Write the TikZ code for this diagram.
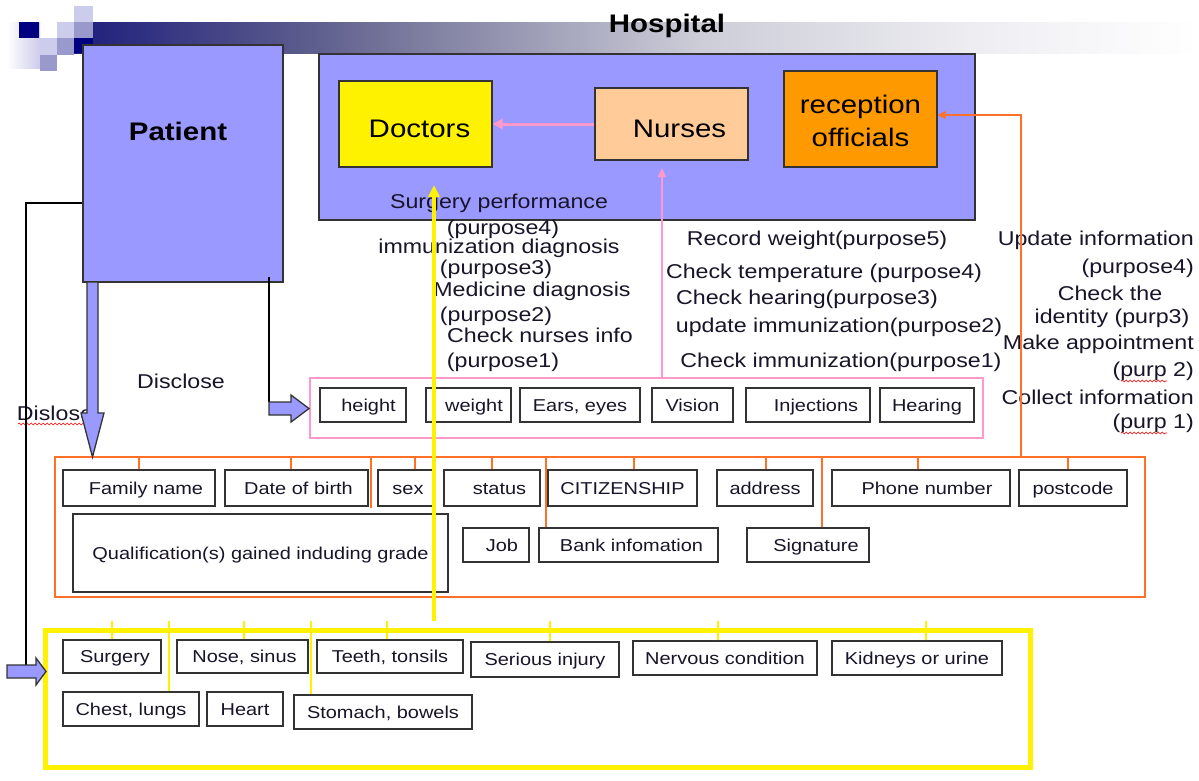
\documentclass[tikz,border=0pt]{standalone}
\usepackage{fontspec}
\setmainfont{Liberation Sans}
\usepackage{graphicx}
\usetikzlibrary{arrows.meta,decorations.pathmorphing}

\definecolor{periwinkle}{RGB}{153,153,255}
\definecolor{navysq}{RGB}{0,0,128}
\definecolor{frame}{RGB}{51,51,51}
\definecolor{nursefill}{RGB}{255,204,153}
\definecolor{recfill}{RGB}{255,153,0}
\definecolor{pinkline}{RGB}{255,153,204}
\definecolor{orangeline}{RGB}{255,112,40}
\definecolor{ink}{RGB}{25,20,40}
\definecolor{sqlight}{RGB}{204,204,236}
\definecolor{sqmid}{RGB}{153,153,204}
\definecolor{barA}{RGB}{30,30,125}
\definecolor{barB}{RGB}{90,90,140}
\definecolor{barC}{RGB}{120,120,156}
\definecolor{barD}{RGB}{205,205,216}
\definecolor{barE}{RGB}{240,240,244}

\pgfdeclarehorizontalshading{titlebar}{100bp}{color(0bp)=(barA); color(25bp)=(barA); color(35bp)=(barB); color(39.5bp)=(barC); color(52.8bp)=(barD); color(66.2bp)=(barE); color(75bp)=(white); color(100bp)=(white)}

% text drawn slightly wider than the font's natural shape
\newcommand{\widetxt}[1]{\scalebox{1.16}[1]{#1}}
% lower a text without changing the size the node sees
\newcommand{\lowered}[2]{\raisebox{-#1}[\height][\depth]{#2}}

\begin{document}
\begin{tikzpicture}[x=1pt,y=-1pt,
  lbl/.style={font=\fontsize{20}{24}\selectfont, text=ink, inner sep=0pt},
  big/.style={font=\fontsize{25.4}{31}\selectfont, text=black, inner sep=0pt},
  item/.style={draw=frame, line width=1.3pt, fill=white, inner sep=0pt,
               text height=14pt, text depth=1.7pt,
               font=\fontsize{17.2}{20}\selectfont, text=ink},
  box/.style 2 args={item, minimum width=#1, minimum height=#2},
  unit/.style={draw=frame, line width=1.3pt, inner sep=0pt, align=center,
               font=\fontsize{25.4}{33}\selectfont, text=black},
  pinkframe/.style={draw=pinkline, line width=1.5pt, inner sep=0pt},
  orangeframe/.style={draw=orangeline, line width=1.5pt, inner sep=0pt},
  yellowframe/.style={draw=yellow, line width=5pt, inner sep=0pt},
  oconn/.style={draw=orangeline, line width=1.5pt},
  yconn/.style={draw=yellow, line width=1.5pt},
  pconn/.style={draw=pinkline, line width=2pt},
  bconn/.style={draw=black, line width=1.3pt},
  blockarrow/.style={draw=frame, line width=1.3pt, fill=periwinkle, line join=miter},
  spell/.style={draw=red, line width=0.6pt, decorate,
                decoration={snake, amplitude=1pt, segment length=4pt}}
]
\useasboundingbox (0,0) rectangle (1199,780);
\fill[white] (0,0) rectangle (1199,780);

% title band and corner squares
\shade[shading=titlebar] (74,22) rectangle (1199,53);
\fill[left color=white, right color=sqlight] (7,22) rectangle (40,68);
\fill[navysq] (19,22) rectangle (39,38);
\fill[sqlight] (40,38) rectangle (57,55);
\fill[sqmid] (40,55) rectangle (57,71);
\fill[sqlight] (57,22) rectangle (74,38);
\fill[sqmid] (57,38) rectangle (74,55);
\fill[sqlight] (74,6) rectangle (93,22);
\fill[sqmid] (74,22) rectangle (93,38);
\fill[navysq] (74,38) rectangle (93,53);
\node[big, font=\fontsize{25.4}{31}\selectfont\bfseries] (title) at (667,26) {\widetxt{Hospital}};

% patient and hospital
\node[unit, fill=periwinkle, minimum width=200pt, minimum height=237pt] (patient) at (183,163.5) {};
\node[big, font=\fontsize{25.4}{31}\selectfont\bfseries] (patientlbl) at (178,131) {\widetxt{Patient}};

\node[unit, fill=periwinkle, minimum width=656pt, minimum height=166pt] (hospital) at (647,137) {};
\node[unit, fill=yellow, minimum width=153pt, minimum height=86pt] (doctors) at (415.5,124) {\hspace*{8pt}\lowered{5pt}{\widetxt{Doctors}}};
\node[unit, fill=nursefill, minimum width=153pt, minimum height=72pt] (nurses) at (671.5,124) {\hspace*{16pt}\lowered{5pt}{\widetxt{Nurses}}};
\node[unit, fill=recfill, minimum width=153pt, minimum height=96pt] (reception) at (860.5,119) {\lowered{1.5pt}{\widetxt{reception}}\\\lowered{1.5pt}{\widetxt{officials}}};

% group frames
\node[pinkframe, minimum width=673pt, minimum height=60pt] (pinkbox) at (646.5,408) {};
\node[orangeframe, minimum width=1090pt, minimum height=140pt] (orangebox) at (600,527) {};
\node[yellowframe, minimum width=985pt, minimum height=137pt] (yellowbox) at (537.5,698.5) {};

% nurse records
\node[box={86pt}{34pt}] (pHeight) at (363,405) {\hspace*{11pt}\widetxt{height}};
\node[box={85pt}{34pt}] (pWeight) at (468.5,405) {\hspace*{11pt}\widetxt{weight}};
\node[box={120pt}{34pt}] (pEars) at (580,405) {\widetxt{Ears, eyes}};
\node[box={81pt}{34pt}] (pVision) at (692.5,405) {\widetxt{Vision}};
\node[box={124pt}{34pt}] (pInject) at (808,405) {\hspace*{16pt}\widetxt{Injections}};
\node[box={94pt}{34pt}] (pHearing) at (927,405) {\widetxt{Hearing}};

% personal details
\node[box={152pt}{36pt}] (oFamily) at (139,488) {\hspace*{14pt}\widetxt{Family name}};
\node[box={143pt}{36pt}] (oBirth) at (296.5,488) {\hspace*{4pt}\widetxt{Date of birth}};
\node[box={56pt}{36pt}] (oSex) at (406,488) {\hspace*{4pt}\widetxt{sex}};
\node[box={96pt}{36pt}] (oStatus) at (492,488) {\hspace*{15pt}\widetxt{status}};
\node[box={149pt}{36pt}] (oCitizen) at (622.5,488) {\widetxt{CITIZENSHIP}};
\node[box={96pt}{36pt}] (oAddress) at (765,488) {\widetxt{address}};
\node[box={178pt}{36pt}] (oPhone) at (921,488) {\hspace*{12pt}\widetxt{Phone number}};
\node[box={108pt}{36pt}] (oPost) at (1073,488) {\widetxt{postcode}};
\node[box={375pt}{78pt}] (oQual) at (260.5,553) {\widetxt{Qualification(s) gained induding grade}};
\node[box={66pt}{34pt}] (oJob) at (496,545) {\hspace*{12pt}\widetxt{Job}};
\node[box={179pt}{34pt}] (oBank) at (628.5,545) {\hspace*{6pt}\widetxt{Bank infomation}};
\node[box={122pt}{34pt}] (oSign) at (808,545) {\hspace*{16pt}\widetxt{Signature}};

% medical history
\node[box={98pt}{33pt}] (ySurgery) at (112,656.5) {\hspace*{6pt}\widetxt{Surgery}};
\node[box={131pt}{33pt}] (yNose) at (242.5,656.5) {\hspace*{4pt}\widetxt{Nose, sinus}};
\node[box={146pt}{33pt}] (yTeeth) at (390,656.5) {\widetxt{Teeth, tonsils}};
\node[box={148pt}{35pt}] (ySerious) at (545,659.5) {\widetxt{Serious injury}};
\node[box={184pt}{34pt}] (yNervous) at (725,658) {\widetxt{Nervous condition}};
\node[box={170pt}{34pt}] (yKidneys) at (917,658) {\widetxt{Kidneys or urine}};
\node[box={136pt}{34pt}] (yChest) at (131,709) {\widetxt{Chest, lungs}};
\node[box={76pt}{34pt}] (yHeart) at (245,709) {\widetxt{Heart}};
\node[box={178pt}{34pt}] (yStomach) at (383,712) {\widetxt{Stomach, bowels}};

% doctors' purposes
\node[lbl] (d1) at (499,203) {\widetxt{Surgery performance}};
\node[lbl] (d2) at (503,229) {\widetxt{(purpose4)}};
\node[lbl] (d3) at (499,248) {\widetxt{immunization diagnosis}};
\node[lbl] (d4) at (496,269) {\widetxt{(purpose3)}};
\node[lbl] (d5) at (532,291) {\widetxt{Medicine diagnosis}};
\node[lbl] (d6) at (496,316) {\widetxt{(purpose2)}};
\node[lbl] (d7) at (540,335) {\widetxt{Check nurses info}};
\node[lbl] (d8) at (503,362) {\widetxt{(purpose1)}};

% nurses' purposes
\node[lbl] (n1) at (817,240) {\widetxt{Record weight(purpose5)}};
\node[lbl] (n2) at (824,273) {\widetxt{Check temperature (purpose4)}};
\node[lbl] (n3) at (807,299) {\widetxt{Check hearing(purpose3)}};
\node[lbl] (n4) at (839,327) {\widetxt{update immunization(purpose2)}};
\node[lbl] (n5) at (841,362) {\widetxt{Check immunization(purpose1)}};

% reception purposes
\node[lbl, anchor=east] (r1) at (1194,240) {\widetxt{Update information}};
\node[lbl, anchor=east] (r2) at (1194,268) {\widetxt{(purpose4)}};
\node[lbl] (r3) at (1110,293) {\widetxt{Check the}};
\node[lbl] (r4) at (1112,318) {\widetxt{identity (purp3)}};
\node[lbl, anchor=east] (r5) at (1194,344) {\widetxt{Make appointment}};
\node[lbl, anchor=east] (r6) at (1194,371) {\widetxt{(purp 2)}};
\node[lbl, anchor=east] (r7) at (1194,397) {\widetxt{Collect information}};
\node[lbl, anchor=east] (r8) at (1194,423) {\widetxt{(purp 1)}};

\node[lbl] (disclose) at (181,381) {\widetxt{Disclose}};
\node[lbl] (dislose) at (55,413) {\widetxt{Dislose}};

% spelling marks
\draw[spell] (18,424) -- (92,424);
\draw[spell] (1121,381) -- (1167,381);
\draw[spell] (1121,433) -- (1167,433);

% orange ticks to personal details
\foreach \n/\dx in {oFamily/0, oBirth/-5.5, oSex/9, oStatus/0, oCitizen/11.5, oAddress/1, oPhone/-3, oPost/-5, oBank/-82.5, oSign/14}
  \draw[oconn] ([xshift=\dx pt]\n.north) -- ([xshift=\dx pt]\n.north |- orangebox.north);
\draw[oconn] ([xshift=110.5pt,yshift=5pt]oQual.north) -- ([xshift=110.5pt]oQual.north |- orangebox.north);

% yellow ticks to medical history
\foreach \n/\dx in {ySurgery/0, yNose/1.5, yTeeth/-3, ySerious/5, yNervous/-7, yKidneys/9, yChest/38, yStomach/-72}
  \draw[yconn] ([xshift=\dx pt]\n.north) -- ([xshift=\dx pt,yshift=7pt]\n.north |- yellowbox.north);

% patient disclosures
\coordinate (leftArrowTop) at (26,665);
\coordinate (rightArrowTop) at (269,402);
\draw[bconn] ([yshift=-39.5pt]patient.west) -| (leftArrowTop);
\draw[bconn] ([xshift=86pt,yshift=6pt]patient.south) -- (rightArrowTop);
\draw[blockarrow] (7,665) -- (36,665) -- (36,658) -- (46,671.5) -- (36,685) -- (36,678) -- (7,678) -- cycle;
\draw[blockarrow] (269,402) -- (291,402) -- (291,395) -- (309,408.5) -- (291,422) -- (291,415) -- (269,415) -- cycle;
\draw[blockarrow] (87,282) -- (87,413) -- (81,413) -- (92.5,457) -- (104,413) -- (98,413) -- (98,282) -- cycle;

% information flows into the hospital
\draw[pconn, line width=3pt, -{Triangle[length=10pt,width=10pt]}] (nurses.west) -- (doctors.east);
\coordinate (nurseTip) at (662,168);
\draw[pconn, -{Triangle[length=9pt,width=8pt]}] (pinkbox.north -| nurseTip) -- (nurseTip);
\coordinate (recCorner) at (1021,115);
\draw[oconn, -{Triangle[length=8pt,width=8pt]}] (orangebox.north -| recCorner) -- (recCorner) -- (reception.east |- recCorner);
\coordinate (surgTip) at (434,185);
\draw[yconn, line width=3.5pt, -{Triangle[length=12pt,width=11pt]}] ([yshift=7pt]yellowbox.north -| surgTip) -- (surgTip);
\end{tikzpicture}
\end{document}
